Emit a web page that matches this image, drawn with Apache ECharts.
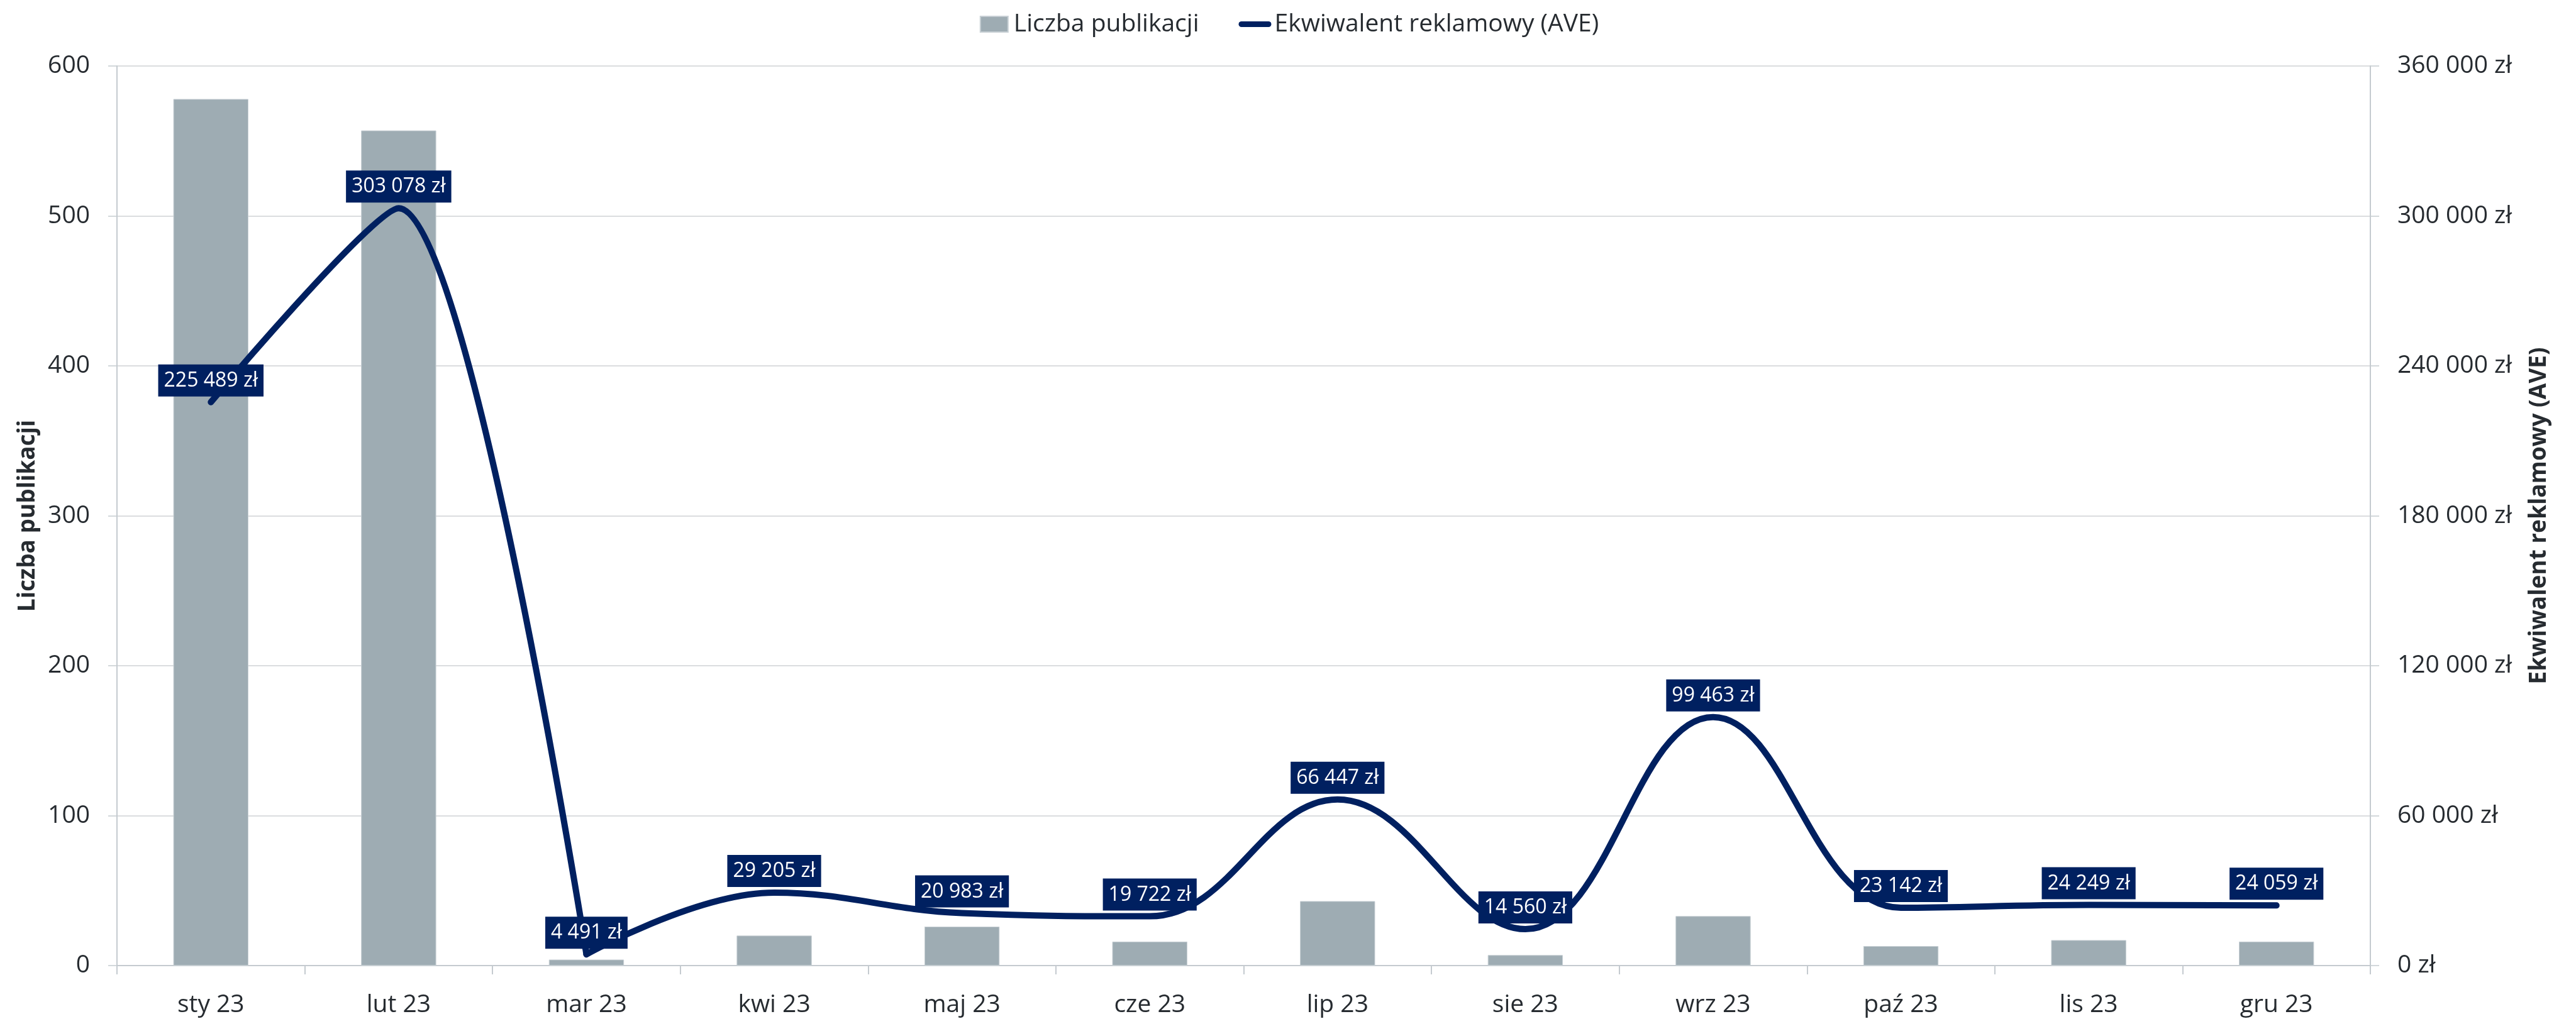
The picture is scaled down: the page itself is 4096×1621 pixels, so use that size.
<!DOCTYPE html>
<html>
<head>
<meta charset="utf-8">
<script src="https://cdn.jsdelivr.net/npm/echarts@6/dist/echarts.min.js"></script>
<style>
html, body { margin: 0; padding: 0; background: #fff; }
#chart { width: 4096px; height: 1621px; }
</style>
</head>
<body>
<div id="chart"></div>
<script>
var months = ['sty 23', 'lut 23', 'mar 23', 'kwi 23', 'maj 23', 'cze 23', 'lip 23', 'sie 23', 'wrz 23', 'paź 23', 'lis 23', 'gru 23'];
var publications = [578, 557, 4, 20, 26, 16, 43, 7, 33, 13, 17, 16];
var ave = [225489, 303078, 4491, 29205, 20983, 19722, 66447, 14560, 99463, 23142, 24249, 24059];

var textColor = '#262b30';
var navy = '#002060';
var font = 'Open Sans';
var lineName = 'Ekwiwalent reklamowy (AVE)';
var splitAt = 2; // the steep drop into mar 23 is drawn as its own piece

function pln(v) {
    return String(v).replace(/\B(?=(\d{3})+(?!\d))/g, ' ') + ' zł';
}

function lineLabel(showFn) {
    return {
        show: true,
        position: 'top',
        distance: 8,
        formatter: function (p) { return showFn(p.dataIndex) ? pln(p.value) : ''; },
        fontFamily: font,
        fontSize: 32,
        lineHeight: 34,
        color: '#ffffff',
        backgroundColor: navy,
        padding: [9, 9, 8, 9]
    };
}

function lineSeries(data, smooth, showFn) {
    return {
        name: lineName,
        type: 'line',
        yAxisIndex: 1,
        data: data,
        smooth: smooth,
        symbol: 'circle',
        symbolSize: 2,
        showSymbol: true,
        clip: true,
        lineStyle: {color: navy, width: 10, cap: 'round', join: 'round'},
        itemStyle: {color: navy},
        label: lineLabel(showFn),
        labelLayout: {hideOverlap: false}
    };
}

var aveHead = ave.map(function (v, i) { return i <= splitAt ? v : '-'; });
var aveTail = ave.map(function (v, i) { return i >= splitAt ? v : '-'; });

var chart = echarts.init(document.getElementById('chart'), null, {renderer: 'canvas'});

chart.setOption({
    animation: false,
    backgroundColor: '#ffffff',
    textStyle: {fontFamily: font, color: textColor},
    legend: {
        top: 19,
        left: 'center',
        padding: 0,
        itemWidth: 52,
        itemHeight: 25,
        itemGap: 63,
        textStyle: {fontFamily: font, fontSize: 39, color: textColor},
        data: [
            // invisible M points keep the icon's box so the mark keeps its real size
            {name: 'Liczba publikacji', icon: 'path://M0,0 M52,25 M4,0 L48,0 L48,25 L4,25 Z'},
            {name: lineName, icon: 'path://M0,0 M52,25 M4.5,8 L47.5,8 A4.5,4.5 0 0 1 47.5,17 L4.5,17 A4.5,4.5 0 0 1 4.5,8 Z'}
        ]
    },
    grid: {left: 186, right: 327, top: 105, bottom: 85, containLabel: false},
    xAxis: {
        type: 'category',
        data: months,
        axisLine: {lineStyle: {color: '#c5cbd0', width: 2}},
        axisTick: {show: true, length: 14, lineStyle: {color: '#c5cbd0', width: 2}},
        axisLabel: {margin: 43, fontSize: 39, color: textColor, fontFamily: font}
    },
    yAxis: [
        {
            type: 'value',
            min: 0,
            max: 600,
            interval: 100,
            name: 'Liczba publikacji',
            nameLocation: 'middle',
            nameRotate: 90,
            nameGap: 123,
            nameTextStyle: {fontFamily: font, fontSize: 37, fontWeight: 'bold', color: textColor},
            axisLine: {show: true, lineStyle: {color: '#c5cbd0', width: 2}},
            axisTick: {show: true, length: 14, lineStyle: {color: '#c5cbd0', width: 1.5}},
            axisLabel: {margin: 43, fontSize: 39, color: textColor, fontFamily: font},
            splitLine: {lineStyle: {color: '#cfd2d5', width: 1.5}}
        },
        {
            type: 'value',
            min: 0,
            max: 360000,
            interval: 60000,
            position: 'right',
            name: lineName,
            nameLocation: 'middle',
            nameRotate: 90,
            nameGap: 250,
            nameTextStyle: {fontFamily: font, fontSize: 37, fontWeight: 'bold', color: textColor},
            axisLine: {show: true, lineStyle: {color: '#c5cbd0', width: 2}},
            axisTick: {show: true, length: 14, lineStyle: {color: '#c5cbd0', width: 1.5}},
            axisLabel: {margin: 43, fontSize: 39, color: textColor, fontFamily: font, formatter: pln},
            splitLine: {show: false}
        }
    ],
    series: [
        {
            name: 'Liczba publikacji',
            type: 'bar',
            data: publications,
            barWidth: '40%',
            itemStyle: {color: '#9eacb3', borderColor: '#c8d0d5', borderWidth: 1}
        },
        lineSeries(aveHead, 0.25, function (i) { return i < splitAt; }),
        lineSeries(aveTail, 0.4, function (i) { return i >= splitAt; })
    ]
});
</script>
</body>
</html>
